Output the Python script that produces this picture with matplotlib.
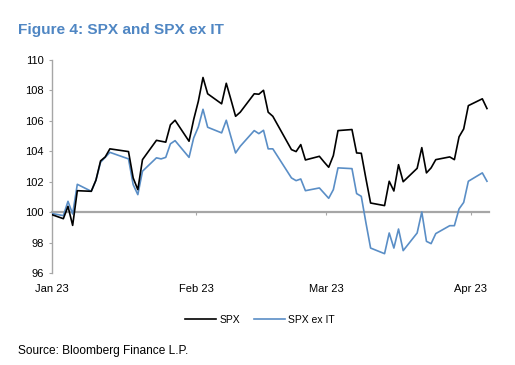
import matplotlib
matplotlib.use("Agg")
import matplotlib.pyplot as plt
import pandas as pd

plt.rcParams['font.family'] = ['Liberation Sans', 'DejaVu Sans']

dates = ["2022-12-30",
         "2023-01-03", "2023-01-04", "2023-01-05", "2023-01-06",
         "2023-01-09", "2023-01-10", "2023-01-11", "2023-01-12", "2023-01-13",
         "2023-01-17", "2023-01-18", "2023-01-19", "2023-01-20",
         "2023-01-23", "2023-01-24", "2023-01-25", "2023-01-26", "2023-01-27",
         "2023-01-30", "2023-01-31", "2023-02-01", "2023-02-02", "2023-02-03",
         "2023-02-06", "2023-02-07", "2023-02-08", "2023-02-09", "2023-02-10",
         "2023-02-13", "2023-02-14", "2023-02-15", "2023-02-16", "2023-02-17",
         "2023-02-21", "2023-02-22", "2023-02-23", "2023-02-24",
         "2023-02-27", "2023-02-28", "2023-03-01", "2023-03-02", "2023-03-03",
         "2023-03-06", "2023-03-07", "2023-03-08", "2023-03-09", "2023-03-10",
         "2023-03-13", "2023-03-14", "2023-03-15", "2023-03-16", "2023-03-17",
         "2023-03-20", "2023-03-21", "2023-03-22", "2023-03-23", "2023-03-24",
         "2023-03-27", "2023-03-28", "2023-03-29", "2023-03-30", "2023-03-31",
         "2023-04-03", "2023-04-04"]

spx = [100.0,
       99.57, 100.38, 99.13, 101.41,
       101.37, 102.10, 103.37, 103.63, 104.16,
       103.98, 102.25, 101.48, 103.45,
       104.72, 104.66, 104.60, 105.74, 106.04,
       104.66, 106.09, 107.29, 108.85, 107.78,
       107.12, 108.47, 107.40, 106.30, 106.57,
       107.78, 107.75, 108.01, 106.57, 106.30,
       104.11, 103.98, 104.44, 103.43,
       103.67, 103.30, 102.95, 103.72, 105.36,
       105.43, 103.89, 103.87, 102.20, 100.60,
       100.43, 102.03, 101.39, 103.12, 102.00,
       102.88, 104.24, 102.58, 102.91, 103.45,
       103.63, 103.45, 104.95, 105.47, 107.00,
       107.45, 106.81]

spx_ex_it = [100.0,
             99.77, 100.71, 99.88, 101.83,
             101.37, 102.10, 103.28, 103.60, 103.93,
             103.50, 101.81, 101.15, 102.69,
             103.57, 103.50, 103.60, 104.49, 104.70,
             103.60, 104.88, 105.60, 106.76, 105.58,
             105.21, 106.04, 104.95, 103.89, 104.33,
             105.36, 105.16, 105.38, 104.16, 104.16,
             102.25, 102.07, 102.18, 101.41,
             101.59, 101.25, 100.91, 101.48, 102.91,
             102.86, 101.22, 101.04, 99.30, 97.64,
             97.27, 98.63, 97.64, 98.89, 97.47,
             98.63, 100.01, 98.08, 97.93, 98.59,
             99.11, 99.11, 100.21, 100.64, 102.03,
             102.58, 102.03]

month_ticks = ["2023-01-01", "2023-02-01", "2023-03-01", "2023-04-01"]
month_labels = ["Jan 23", "Feb 23", "Mar 23", "Apr 23"]
y_ticks = [96, 98, 100, 102, 104, 106, 108, 110]

title = "Figure 4: SPX and SPX ex IT"
source = "Source: Bloomberg Finance L.P."

blue = '#5a8ec6'
title_blue = '#4f86c3'
grey = '#a6a6a6'

x = pd.to_datetime(dates) + pd.Timedelta(hours=12)

fig = plt.figure(figsize=(5.15, 3.65), dpi=100)
ax = fig.add_axes([51.7/515, 1-273/365, (489.3-51.7)/515, (273-60)/365])

ax.plot(x, spx_ex_it, color=blue, lw=1.2, label='SPX ex IT', zorder=3)
ax.plot(x, spx, color='black', lw=1.2, label='SPX', zorder=4)

ax.set_xlim(pd.Timestamp("2023-01-01"), pd.Timestamp("2023-04-05"))
ax.set_ylim(96, 110)
ax.set_yticks(y_ticks)
ax.set_yticklabels([str(v) for v in y_ticks])

ax.set_xticks(pd.to_datetime(month_ticks))
ax.set_xticklabels(month_labels)

for s in ['top', 'right']:
    ax.spines[s].set_visible(False)
ax.spines['left'].set_color(grey)
ax.spines['left'].set_linewidth(1.0)
ax.spines['bottom'].set_position(('data', 100))
ax.spines['bottom'].set_color(grey)
ax.spines['bottom'].set_linewidth(1.6)
ax.spines['bottom'].set_zorder(2)

ax.tick_params(axis='y', direction='out', length=2.5, width=0.8, color=grey, pad=3,
               labelsize=8)
ax.tick_params(axis='x', direction='out', length=2.5, width=0.8, color=grey, pad=49,
               labelsize=8)

h, l = ax.get_legend_handles_labels()
fig.legend([h[1], h[0]], [l[1], l[0]], loc='center', bbox_to_anchor=(260/515, 1-320/365),
           ncol=2, frameon=False, fontsize=7.5, handlelength=3.0, handletextpad=0.3,
           columnspacing=1.3)

fig.text(18/515, 1-30/365, title, fontsize=11.1, fontweight='bold', color=title_blue,
         va='center', ha='left')
fig.text(18/515, 1-351/365, source, fontsize=8.6, color='black', va='center', ha='left')

fig.savefig("out.png", dpi=100)
